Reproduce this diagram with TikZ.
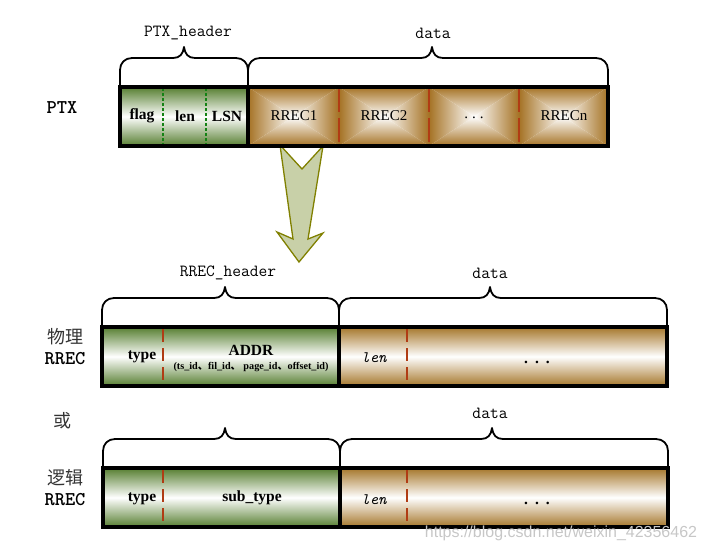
\documentclass[tikz,border=0pt]{standalone}
\usepackage{fontspec}
\setmainfont{Liberation Serif}
\newfontfamily\cjk{Noto Sans CJK SC}
\newfontfamily\wmfont{Liberation Sans}
\definecolor{hgreen}{RGB}{86,126,48}
\definecolor{dbrown}{RGB}{165,118,42}
\definecolor{pbrown}{RGB}{165,114,36}
\definecolor{divred}{RGB}{176,60,20}
\definecolor{dgreen}{RGB}{20,130,20}
\definecolor{arrowfill}{RGB}{200,208,168}
\definecolor{arrowline}{RGB}{128,128,0}
\colorlet{pmid}{pbrown!40!white}
\newcommand{\pyrcell}[4]{%
  \shade[top color=pbrown,middle color=pmid,bottom color=white] (#1,#2) -- (#3,#2) -- ({(#1+#3)/2},{(#2+#4)/2}) -- cycle;
  \shade[top color=white,middle color=pmid,bottom color=pbrown] (#1,#4) -- (#3,#4) -- ({(#1+#3)/2},{(#2+#4)/2}) -- cycle;
  \shade[left color=pbrown,middle color=pmid,right color=white] (#1,#2) -- (#1,#4) -- ({(#1+#3)/2},{(#2+#4)/2}) -- cycle;
  \shade[left color=white,middle color=pmid,right color=pbrown] (#3,#2) -- (#3,#4) -- ({(#1+#3)/2},{(#2+#4)/2}) -- cycle;
}
\newcommand{\curlybr}[6]{% x1 x2 xm ybase ytop ytip
  \draw[bracestyle] (#1,#4) -- (#1,#5+12) .. controls (#1,#5+5) and (#1+5,#5) .. (#1+12,#5)
    -- (#3-11,#5) .. controls (#3-4,#5) and (#3-1,#5-4) .. (#3,#6)
    .. controls (#3+1,#5-4) and (#3+4,#5) .. (#3+11,#5)
    -- (#2-12,#5) .. controls (#2-5,#5) and (#2,#5+5) .. (#2,#5+12) -- (#2,#4);
}
\tikzset{
  bracestyle/.style={line width=1.8pt, line join=round},
  barframe/.style={line width=3.6pt},
  hdrfill/.style={top color=hgreen, bottom color=hgreen, middle color=white},
  datafill/.style={top color=dbrown, bottom color=dbrown, middle color=white},
  gdash/.style={dgreen, line width=1.3pt, dash pattern=on 3pt off 2pt},
  rdash/.style={divred, line width=1.6pt, dash pattern=on 13pt off 6pt},
  blbl/.style={font=\fontsize{15.5}{17}\selectfont\bfseries, inner sep=0pt},
  rlbl/.style={font=\fontsize{15}{16}\selectfont, inner sep=0pt},
  ttl/.style={font=\fontsize{17}{19}\selectfont\ttfamily, inner sep=0pt},
  sidel/.style={font=\fontsize{19.5}{21}\selectfont\ttfamily\bfseries, inner sep=0pt},
  cjkl/.style={font=\fontsize{18}{20}\selectfont\cjk, inner sep=0pt, text=black!80},
  lenl/.style={font=\fontsize{16}{18}\selectfont\ttfamily\itshape, inner sep=0pt},
}
\begin{document}
\begin{tikzpicture}[x=1pt,y=-1pt]
\useasboundingbox (0,0) rectangle (706,551);
% arrow
\draw[fill=arrowfill, draw=arrowline, line width=1.3pt, line join=miter]
  (280,145) -- (302,169) -- (323,146) -- (308,239) -- (323,233) -- (299,262)
  -- (277,232) -- (293,239) -- cycle;
% ---------- top bar (PTX)
\shade[hdrfill] (120,87) rectangle (248,146);
\pyrcell{248}{87}{339}{146}
\pyrcell{339}{87}{429}{146}
\pyrcell{429}{87}{519}{146}
\pyrcell{519}{87}{608}{146}
\draw[gdash] (163,88) -- (163,145);
\draw[gdash] (206,88) -- (206,145);
\draw[divred, line width=1.6pt, dash pattern=on 24pt off 6pt] (339,88) -- (339,145);
\draw[divred, line width=1.6pt, dash pattern=on 24pt off 6pt] (429,88) -- (429,145);
\draw[divred, line width=1.6pt, dash pattern=on 24pt off 6pt] (519,88) -- (519,145);
\draw[barframe] (120,87) rectangle (608,146);
\draw[barframe] (248,87) -- (248,146);
\node[blbl] (flag) at (142,116) {flag};
\node[blbl] (lenA) at (185,116) {len};
\node[blbl] (lsn) at (227,116) {LSN};
\node[rlbl] (r1) at (294,116) {RREC1};
\node[rlbl] (r2) at (384,116) {RREC2};
\node[rlbl] (rdots) at (474,118) {.\hspace{4pt}.\hspace{4pt}.};
\node[rlbl] (rn) at (564,116) {RRECn};
\curlybr{120}{248}{184}{85}{58}{47}
\curlybr{248}{608}{432}{85}{58}{47}
\node[ttl] (ptxh) at (188,33) {PTX\_header};
\node[ttl] (dataA) at (433,33) {data};
\node[sidel] (ptx) at (62,108) {PTX};
% ---------- middle bar (physical RREC)
\shade[hdrfill] (102,327) rectangle (339,386);
\shade[datafill] (339,327) rectangle (667,386);
\draw[rdash] (163,329) -- (163,385);
\draw[rdash] (407,329) -- (407,385);
\draw[barframe] (102,327) rectangle (667,386);
\draw[barframe] (339,327) -- (339,386);
\node[blbl] (typeA) at (142,357) {type};
\node[blbl] (addr) at (251,350) {ADDR};
\node[font=\fontsize{10.2}{12}\selectfont\bfseries, inner sep=0pt] (addrsub) at (251,367)
  {(ts\_id{\cjk 、}fil\_id{\cjk 、} page\_id{\cjk 、}offset\_id)};
\node[lenl] (lenB) at (374,358) {len};
\node[blbl] (dotsB) at (537,362) {.\hspace{7pt}.\hspace{7pt}.};
\curlybr{102}{339}{225}{327}{298}{287}
\curlybr{339}{667}{490}{327}{298}{287}
\node[ttl] (rrech) at (228,273) {RREC\_header};
\node[ttl] (dataB) at (490,273) {data};
\node[cjkl] (wuli) at (65,337) {物理};
\node[sidel] (rrecA) at (65,359) {RREC};
% ---------- or
\node[cjkl] (huo) at (62,421) {或};
% ---------- bottom bar (logical RREC)
\shade[hdrfill] (103,468) rectangle (340,527);
\shade[datafill] (340,468) rectangle (668,527);
\draw[rdash] (163,470) -- (163,526);
\draw[rdash] (407,470) -- (407,526);
\draw[barframe] (103,468) rectangle (668,527);
\draw[barframe] (340,468) -- (340,527);
\node[blbl] (typeB) at (142,499) {type};
\node[blbl] (subtype) at (252,498) {sub\_type};
\node[lenl] (lenC) at (374,500) {len};
\node[blbl] (dotsC) at (537,503) {.\hspace{7pt}.\hspace{7pt}.};
\curlybr{103}{340}{225}{468}{439}{428}
\curlybr{340}{668}{492}{468}{439}{428}
\node[ttl] (dataC) at (490,413) {data};
\node[cjkl] (luoji) at (65,478) {逻辑};
\node[sidel] (rrecB) at (65,500) {RREC};
% watermark
\node[font=\fontsize{16}{18}\selectfont\wmfont, text=black!22, inner sep=0pt] (wm) at (561,533)
  {https://blog.csdn.net/weixin\_42356462};
\end{tikzpicture}
\end{document}
